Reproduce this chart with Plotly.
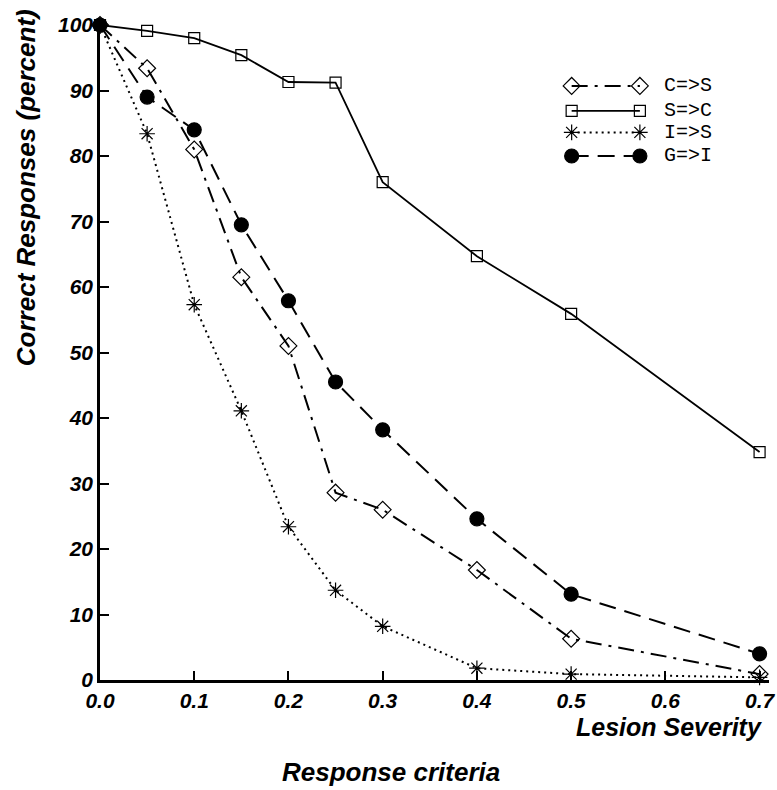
import plotly.graph_objects as go

severity = [0.0, 0.05, 0.1, 0.15, 0.2, 0.25, 0.3, 0.4, 0.5, 0.7]
series_names = ["C=>S", "S=>C", "I=>S", "G=>I"]
c_to_s = [100, 93.4, 81.0, 61.5, 51.0, 28.6, 26.0, 16.8, 6.3, 0.9]
s_to_c = [100, 99.1, 98.0, 95.4, 91.3, 91.2, 76.0, 64.7, 55.9, 34.8]
i_to_s = [100, 83.4, 57.3, 41.1, 23.4, 13.7, 8.2, 1.8, 0.9, 0.4]
g_to_i = [100, 89.0, 84.0, 69.5, 57.9, 45.5, 38.2, 24.6, 13.1, 4.0]
x_ticks = [0.0, 0.1, 0.2, 0.3, 0.4, 0.5, 0.6, 0.7]
y_ticks = [0, 10, 20, 30, 40, 50, 60, 70, 80, 90, 100]

values = [c_to_s, s_to_c, i_to_s, g_to_i]
styles = [
    dict(dash="16px,7px,3px,7px", symbol="diamond-open", size=13, width=2),
    dict(dash="solid", symbol="square-open", size=11, width=1.8),
    dict(dash="2px,4px", symbol="asterisk-open", size=13, width=2),
    dict(dash="17px,9px", symbol="circle", size=14, width=2),
]

FONT = "Liberation Sans, Arial, sans-serif"
fig = go.Figure()
for name, vals, st in zip(series_names, values, styles):
    fig.add_trace(go.Scatter(
        x=severity, y=vals, name=name, mode="lines+markers",
        line=dict(color="black", width=st["width"], dash=st["dash"]),
        marker=dict(symbol=st["symbol"], size=st["size"], color="black",
                    line=dict(color="black", width=1.2)),
        cliponaxis=False, showlegend=False,
    ))

# custom legend glyphs on an overlay axis (0..1 over the plot area)
leg_x = [0.705, 0.807]
leg_y = [0.907, 0.869, 0.836, 0.800]
for name, st, ly in zip(series_names, styles, leg_y):
    fig.add_trace(go.Scatter(
        x=leg_x, y=[ly, ly], xaxis="x2", yaxis="y2", mode="lines+markers",
        line=dict(color="black", width=st["width"], dash=st["dash"]),
        marker=dict(symbol=st["symbol"], size=st["size"], color="black",
                    line=dict(color="black", width=1.2)),
        cliponaxis=False, showlegend=False, hoverinfo="skip",
    ))
    fig.add_annotation(x=0.840, y=ly, xref="paper", yref="paper", text=name,
                       showarrow=False, xanchor="left", yanchor="middle",
                       font=dict(family="Liberation Mono, Courier New, monospace",
                                 size=20, color="black"))

tickfont = dict(family=FONT, size=21, color="black", weight="bold", style="italic")
fig.update_layout(
    width=777, height=790,
    margin=dict(l=100, r=8, t=25, b=110),
    paper_bgcolor="white", plot_bgcolor="white",
    xaxis=dict(range=[0, 0.71], tickvals=x_ticks, ticktext=[f"{v:.1f}" for v in x_ticks],
               ticks="inside", ticklen=9, tickwidth=2, tickcolor="black",
               showline=True, linecolor="black", linewidth=2.5, showgrid=False,
               zeroline=False, tickfont=tickfont, automargin=False),
    yaxis=dict(range=[0, 100], tickvals=y_ticks, ticks="inside", ticklen=9, tickwidth=2,
               tickcolor="black", showline=True, linecolor="black", linewidth=2.5,
               showgrid=False, zeroline=False, tickfont=tickfont, automargin=False),
    xaxis2=dict(overlaying="x", range=[0, 1], visible=False),
    yaxis2=dict(overlaying="y", range=[0, 1], visible=False),
)

fig.add_annotation(x=-0.1105, y=0.751, xref="paper", yref="paper",
                   text="Correct Responses (percent)", textangle=-90, showarrow=False,
                   xanchor="center", yanchor="middle",
                   font=dict(family=FONT, size=26, color="black", weight="bold", style="italic"))
fig.add_annotation(x=0.992, y=-0.072, xref="paper", yref="paper", text="Lesion Severity",
                   showarrow=False, xanchor="right", yanchor="middle",
                   font=dict(family=FONT, size=25, color="black", weight="bold", style="italic"))
fig.add_annotation(x=0.4347, y=-0.141, xref="paper", yref="paper", text="Response criteria",
                   showarrow=False, xanchor="center", yanchor="middle",
                   font=dict(family=FONT, size=26, color="black", weight="bold", style="italic"))

fig.write_html("out.html", post_script="document.body.style.margin='0';",
               config={"displayModeBar": False})
